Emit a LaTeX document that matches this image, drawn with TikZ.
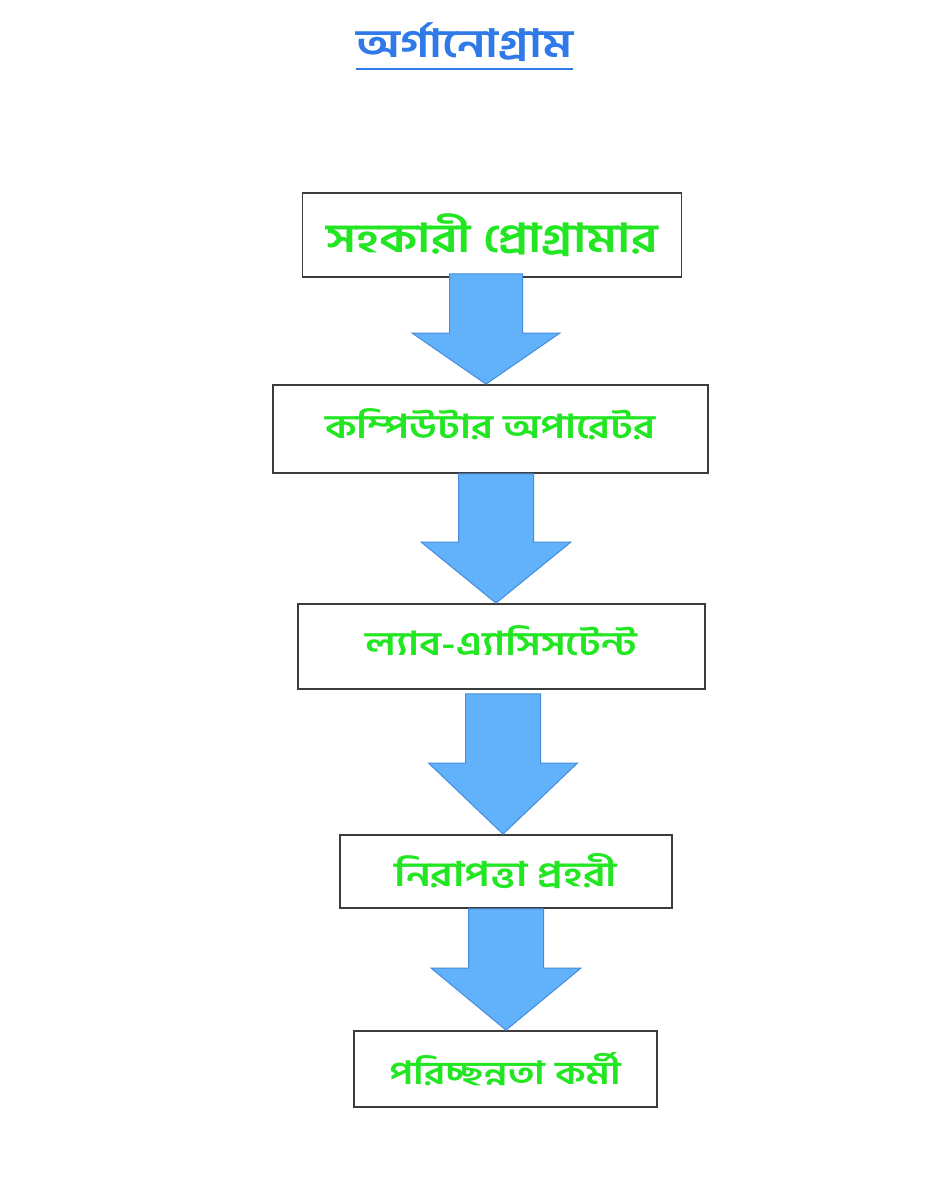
\documentclass[tikz,border=0pt]{standalone}
\usepackage{fontspec}
\usetikzlibrary{calc}
\newfontfamily\bn[Script=Bengali,FakeStretch=1.25]{Hind Siliguri}
\definecolor{titleblue}{RGB}{47,122,232}
\definecolor{txtgreen}{RGB}{34,230,34}
\definecolor{arrowfill}{RGB}{97,178,250}
\definecolor{arrowedge}{RGB}{70,140,220}
\definecolor{boxedge}{RGB}{60,60,60}
\newcommand{\lift}[2]{\raisebox{#1}[\height][\depth]{#2}}
\tikzset{
  x=1pt, y=-1pt,
  box/.style={draw=boxedge, line width=1.8pt, fill=white, rectangle, inner sep=0pt,
    text=txtgreen},
  barrow/.style={fill=arrowfill, draw=arrowedge, line width=1pt, line join=miter},
  titlestyle/.style={text=titleblue, inner sep=0pt, font=\bn\bfseries\fontsize{39}{44}\selectfont}
}
\begin{document}
\begin{tikzpicture}
\useasboundingbox (0,0) rectangle (945,1181);
\fill[white] (0,0) rectangle (945,1181);
% title
\node[titlestyle] (title) at (464.5,42) {অর্গানোগ্রাম};
\draw[titleblue, line width=2.8pt] ($(title.south west)+(0,-7pt)$) -- ($(title.south east)+(0,-7pt)$);
% boxes
\node[box, minimum width=379pt, minimum height=84pt, font=\bn\bfseries\fontsize{40}{46}\selectfont] (b1) at (492,235) {সহকারী প্রোগ্রামার};
\node[box, minimum width=435pt, minimum height=88pt, font=\bn\bfseries\fontsize{33}{40}\selectfont] (b2) at (490.5,429) {\lift{5pt}{কম্পিউটার অপারেটর}};
\node[box, minimum width=407pt, minimum height=85pt, font=\bn\bfseries\fontsize{33}{40}\selectfont] (b3) at (501.5,646.5) {\lift{6pt}{ল্যাব-এ্যাসিসটেন্ট}};
\node[box, minimum width=332pt, minimum height=73pt, font=\bn\bfseries\fontsize{34}{40}\selectfont] (b4) at (506,871.5) {নিরাপত্তা প্রহরী};
\node[box, minimum width=303pt, minimum height=76pt, font=\bn\bfseries\fontsize{32}{38}\selectfont] (b5) at (505.5,1069) {পরিচ্ছন্নতা কর্মী};
% head-base centres of the block arrows
\coordinate (h1) at (486,333);
\coordinate (h2) at (496,542);
\coordinate (h3) at (503,763);
\coordinate (h4) at (506,968);
% block arrows
\draw[barrow] ($(b1.south -| h1)+(-36.5pt,4pt)$) -- ($(b1.south -| h1)+(36.5pt,4pt)$) -- ($(h1)+(36.5pt,0)$) -- ($(h1)+(74pt,0)$) -- (b2.north -| h1) -- ($(h1)+(-74pt,0)$) -- ($(h1)+(-36.5pt,0)$) -- cycle;
\draw[barrow] ($(b2.south -| h2)+(-37.5pt,0pt)$) -- ($(b2.south -| h2)+(37.5pt,0pt)$) -- ($(h2)+(37.5pt,0)$) -- ($(h2)+(75pt,0)$) -- (b3.north -| h2) -- ($(h2)+(-75pt,0)$) -- ($(h2)+(-37.5pt,0)$) -- cycle;
\draw[barrow] ($(b3.south -| h3)+(-37.5pt,-4pt)$) -- ($(b3.south -| h3)+(37.5pt,-4pt)$) -- ($(h3)+(37.5pt,0)$) -- ($(h3)+(74.5pt,0)$) -- (b4.north -| h3) -- ($(h3)+(-74.5pt,0)$) -- ($(h3)+(-37.5pt,0)$) -- cycle;
\draw[barrow] ($(b4.south -| h4)+(-37.5pt,0pt)$) -- ($(b4.south -| h4)+(37.5pt,0pt)$) -- ($(h4)+(37.5pt,0)$) -- ($(h4)+(75pt,0)$) -- (b5.north -| h4) -- ($(h4)+(-75pt,0)$) -- ($(h4)+(-37.5pt,0)$) -- cycle;
\end{tikzpicture}
\end{document}
